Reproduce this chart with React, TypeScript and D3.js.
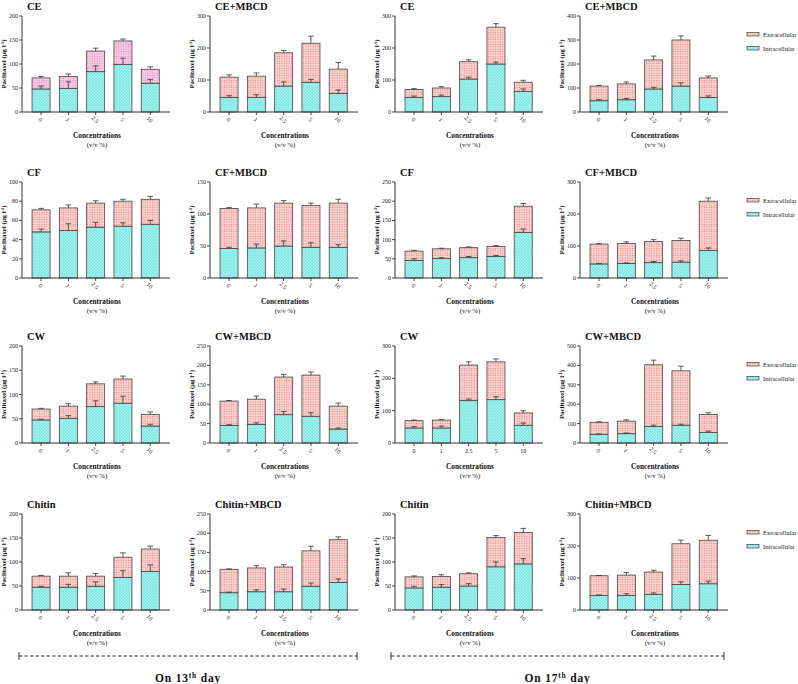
import React from 'react';
import * as d3 from 'd3';

const concentrations = ['0', '1', '2.5', '5', '10'];

// Day 13
const ceD13Intra = [48, 49, 84, 99, 60];
const ceD13IntraErr = [6, 14, 12, 13, 8];
const ceD13Extra = [23, 25, 43, 49, 29];
const ceD13ExtraErr = [3, 5, 6, 4, 5];

const ceMbD13Intra = [46, 46, 81, 93, 58];
const ceMbD13IntraErr = [5, 8, 13, 9, 11];
const ceMbD13Extra = [63, 66, 104, 122, 76];
const ceMbD13ExtraErr = [7, 10, 7, 22, 21];

const cfD13Intra = [48, 49.5, 53, 54, 56];
const cfD13IntraErr = [3, 7, 5, 3.5, 4];
const cfD13Extra = [23, 23.5, 25, 26, 26];
const cfD13ExtraErr = [1.5, 3, 2.5, 2, 3];

const cfMbD13Intra = [46, 47, 50, 48, 48];
const cfMbD13IntraErr = [2, 6, 8, 7, 4];
const cfMbD13Extra = [62.5, 62.5, 67, 65, 69];
const cfMbD13ExtraErr = [1.5, 6, 4, 4, 6];

const cwD13Intra = [47.5, 51, 75, 82, 35];
const cwD13IntraErr = [1.5, 5.5, 12, 14.5, 3.5];
const cwD13Extra = [22.5, 25, 47, 50, 24];
const cwD13ExtraErr = [1.5, 5, 4, 6, 5];

const cwMbD13Intra = [45.5, 48, 73, 69, 36];
const cwMbD13IntraErr = [1.5, 4, 8, 9, 2.7];
const cwMbD13Extra = [62.5, 65, 97, 106, 59];
const cwMbD13ExtraErr = [1.5, 8, 7, 8, 8];

const chD13Intra = [47.5, 47.5, 49.5, 68, 80];
const chD13IntraErr = [2, 6, 9, 14, 14];
const chD13Extra = [23, 23, 21, 42, 47];
const chD13ExtraErr = [1.5, 7, 5.5, 9, 6];

const chMbD13Intra = [45, 47.5, 47.5, 62, 71.5];
const chMbD13IntraErr = [1.5, 5, 7, 8, 9.5];
const chMbD13Extra = [61, 62, 64.5, 92, 111.5];
const chMbD13ExtraErr = [1, 6, 6, 12, 7.5];

// Day 17
const ceD17Intra = [46, 48, 103, 150, 64];
const ceD17IntraErr = [4, 5, 6, 6, 8];
const ceD17Extra = [24, 27, 54, 115, 29];
const ceD17ExtraErr = [3, 4, 6, 11, 6];

const ceMbD17Intra = [47, 51, 96, 108, 61];
const ceMbD17IntraErr = [4, 5, 7, 14, 6];
const ceMbD17Extra = [61, 66, 121, 192, 81];
const ceMbD17ExtraErr = [3, 8, 16, 17, 8];

const cfD17Intra = [46, 50.5, 53, 56, 118.5];
const cfD17IntraErr = [4, 2.5, 3, 2.5, 9];
const cfD17Extra = [24, 25.5, 26, 26, 68.5];
const cfD17ExtraErr = [2, 1.5, 2, 2.5, 7];

const cfMbD17Intra = [44, 45, 48, 49.5, 86.5];
const cfMbD17IntraErr = [1, 2, 3.5, 4, 7.5];
const cfMbD17Extra = [62, 63, 66, 68, 153.5];
const cfMbD17ExtraErr = [1, 5, 6, 7, 10];

const cwD17Intra = [46.5, 46.5, 131, 134, 55];
const cwD17IntraErr = [4, 6, 5, 9, 7];
const cwD17Extra = [22.5, 24.5, 110, 117, 38];
const cwD17ExtraErr = [2, 1, 10, 9, 7];

const cwMbD17Intra = [45, 48, 85, 92, 54];
const cwMbD17IntraErr = [1.7, 3.6, 7, 5, 7];
const cwMbD17Extra = [62, 64.5, 318, 280, 93];
const cwMbD17ExtraErr = [2, 7, 24, 24, 9];

const chD17Intra = [46, 47.5, 50, 90, 96];
const chD17IntraErr = [3.5, 5.5, 5, 10, 11];
const chD17Extra = [23, 22.5, 25.5, 61, 65.5];
const chD17ExtraErr = [2, 3.5, 2, 4, 8.5];

const chMbD17Intra = [45, 45, 49, 80, 82];
const chMbD17IntraErr = [2, 6, 4.5, 8, 8];
const chMbD17Extra = [62, 64, 69.5, 127, 136];
const chMbD17ExtraErr = [1, 8, 5.5, 11.5, 15];

const legendLabels = ['Extracellular', 'Intracellular'];
const dayLabels = ['13', '17'];

type Panel = {
  title: string;
  intra: number[];
  intraErr: number[];
  extra: number[];
  extraErr: number[];
  yMax: number;
  yStep: number;
  row: number;
  col: number;
  rotate: boolean;
  pinkAlt?: boolean;
};

const panels: Panel[] = [
  { title: 'CE', intra: ceD13Intra, intraErr: ceD13IntraErr, extra: ceD13Extra, extraErr: ceD13ExtraErr, yMax: 200, yStep: 50, row: 0, col: 0, rotate: true, pinkAlt: true },
  { title: 'CE+MBCD', intra: ceMbD13Intra, intraErr: ceMbD13IntraErr, extra: ceMbD13Extra, extraErr: ceMbD13ExtraErr, yMax: 300, yStep: 100, row: 0, col: 1, rotate: true },
  { title: 'CE', intra: ceD17Intra, intraErr: ceD17IntraErr, extra: ceD17Extra, extraErr: ceD17ExtraErr, yMax: 300, yStep: 100, row: 0, col: 2, rotate: true },
  { title: 'CE+MBCD', intra: ceMbD17Intra, intraErr: ceMbD17IntraErr, extra: ceMbD17Extra, extraErr: ceMbD17ExtraErr, yMax: 400, yStep: 100, row: 0, col: 3, rotate: true },
  { title: 'CF', intra: cfD13Intra, intraErr: cfD13IntraErr, extra: cfD13Extra, extraErr: cfD13ExtraErr, yMax: 100, yStep: 20, row: 1, col: 0, rotate: true },
  { title: 'CF+MBCD', intra: cfMbD13Intra, intraErr: cfMbD13IntraErr, extra: cfMbD13Extra, extraErr: cfMbD13ExtraErr, yMax: 150, yStep: 50, row: 1, col: 1, rotate: true },
  { title: 'CF', intra: cfD17Intra, intraErr: cfD17IntraErr, extra: cfD17Extra, extraErr: cfD17ExtraErr, yMax: 250, yStep: 50, row: 1, col: 2, rotate: true },
  { title: 'CF+MBCD', intra: cfMbD17Intra, intraErr: cfMbD17IntraErr, extra: cfMbD17Extra, extraErr: cfMbD17ExtraErr, yMax: 300, yStep: 100, row: 1, col: 3, rotate: true },
  { title: 'CW', intra: cwD13Intra, intraErr: cwD13IntraErr, extra: cwD13Extra, extraErr: cwD13ExtraErr, yMax: 200, yStep: 50, row: 2, col: 0, rotate: true },
  { title: 'CW+MBCD', intra: cwMbD13Intra, intraErr: cwMbD13IntraErr, extra: cwMbD13Extra, extraErr: cwMbD13ExtraErr, yMax: 250, yStep: 50, row: 2, col: 1, rotate: true },
  { title: 'CW', intra: cwD17Intra, intraErr: cwD17IntraErr, extra: cwD17Extra, extraErr: cwD17ExtraErr, yMax: 300, yStep: 100, row: 2, col: 2, rotate: false },
  { title: 'CW+MBCD', intra: cwMbD17Intra, intraErr: cwMbD17IntraErr, extra: cwMbD17Extra, extraErr: cwMbD17ExtraErr, yMax: 500, yStep: 100, row: 2, col: 3, rotate: true },
  { title: 'Chitin', intra: chD13Intra, intraErr: chD13IntraErr, extra: chD13Extra, extraErr: chD13ExtraErr, yMax: 200, yStep: 50, row: 3, col: 0, rotate: true },
  { title: 'Chitin+MBCD', intra: chMbD13Intra, intraErr: chMbD13IntraErr, extra: chMbD13Extra, extraErr: chMbD13ExtraErr, yMax: 250, yStep: 50, row: 3, col: 1, rotate: true },
  { title: 'Chitin', intra: chD17Intra, intraErr: chD17IntraErr, extra: chD17Extra, extraErr: chD17ExtraErr, yMax: 200, yStep: 50, row: 3, col: 2, rotate: true },
  { title: 'Chitin+MBCD', intra: chMbD17Intra, intraErr: chMbD17IntraErr, extra: chMbD17Extra, extraErr: chMbD17ExtraErr, yMax: 300, yStep: 100, row: 3, col: 3, rotate: true },
];

const W = 798;
const H = 684;
const rowTop = [16, 182, 346, 514];
const rowBase = [112, 278, 443, 610];
const colAxisX = [22, 210, 395, 580];
const FONT = '"Liberation Serif", "Times New Roman", serif';
const INK = '#333';

function PanelView({ p }: { p: Panel }) {
  const ax = colAxisX[p.col];
  const top = rowTop[p.row];
  const base = rowBase[p.row];
  const x = d3.scaleBand<string>().domain(concentrations).range([ax + 5.4, ax + 141.9]).paddingInner(0.34).paddingOuter(0.17);
  const y = d3.scaleLinear().domain([0, p.yMax]).range([base, top]);
  const rows = concentrations.map((c, i) => ({ c, intra: p.intra[i], extra: p.extra[i] }));
  const stack = d3.stack<any>().keys(['intra', 'extra'])(rows);
  const ticks = d3.range(0, p.yMax + p.yStep / 2, p.yStep);
  const bw = x.bandwidth();
  const pinkId = p.pinkAlt ? 'pinkAlt' : 'pinkPat';
  const cap = 2.8;
  const midY = (top + base) / 2;
  return (
    <g>
      <text x={ax + 5} y={top - 6.5} fontFamily={FONT} fontWeight="bold" fontSize={10.5} fill="#111">{p.title}</text>
      {stack.map((s, si) => (
        <g key={si}>
          {s.map((d, i) => (
            <rect key={i} x={x(concentrations[i])} y={y(d[1])} width={bw} height={y(d[0]) - y(d[1])}
              fill={si === 0 ? 'url(#cyanPat)' : `url(#${pinkId})`} stroke="#444" strokeWidth={0.8} />
          ))}
        </g>
      ))}
      {rows.map((r, i) => {
        const cx = (x(r.c) as number) + bw / 2;
        const t1 = r.intra, e1 = r.intra + p.intraErr[i];
        const t2 = r.intra + r.extra, e2 = t2 + p.extraErr[i];
        return (
          <g key={i} stroke={INK} strokeWidth={0.8}>
            <line x1={cx} x2={cx} y1={y(t1)} y2={y(e1)} />
            <line x1={cx - cap} x2={cx + cap} y1={y(e1)} y2={y(e1)} />
            <line x1={cx} x2={cx} y1={y(t2)} y2={y(e2)} />
            <line x1={cx - cap} x2={cx + cap} y1={y(e2)} y2={y(e2)} />
          </g>
        );
      })}
      <line x1={ax} x2={ax} y1={base} y2={top} stroke={INK} strokeWidth={1} />
      {ticks.map((t) => (
        <g key={t}>
          <line x1={ax - 3} x2={ax} y1={y(t)} y2={y(t)} stroke={INK} strokeWidth={0.9} />
          <text x={ax - 4} y={y(t) + 2} textAnchor="end" fontFamily={FONT} fontSize={6} fill="#222">{t}</text>
        </g>
      ))}
      <text transform={`translate(${ax - 16},${midY}) rotate(-90)`} textAnchor="middle" fontFamily={FONT} fontWeight="bold" fontSize={6.8} fill="#111">
        Paclitaxel (μg l<tspan dy={-2.5} fontSize={4.5}>-1</tspan><tspan dy={2.5}>)</tspan>
      </text>
      <line x1={ax} x2={ax + 148} y1={base} y2={base} stroke={INK} strokeWidth={1} />
      {concentrations.map((c) => {
        const cx = (x(c) as number) + bw / 2;
        return (
          <g key={c}>
            <line x1={cx} x2={cx} y1={base} y2={base + 3} stroke={INK} strokeWidth={0.9} />
            {p.rotate ? (
              <text transform={`translate(${cx - 1},${base + 8}) rotate(45)`} textAnchor="middle" dominantBaseline="middle" fontFamily={FONT} fontSize={6} fill="#222">{c}</text>
            ) : (
              <text x={cx} y={base + 10} textAnchor="middle" fontFamily={FONT} fontSize={6} fill="#222">{c}</text>
            )}
          </g>
        );
      })}
      <text x={ax + 75} y={base + 25.5} textAnchor="middle" fontFamily={FONT} fontWeight="bold" fontSize={7.3} fill="#111">Concentrations</text>
      <text x={ax + 75} y={base + 34.5} textAnchor="middle" fontFamily={FONT} fontSize={6.8} fill="#111">(v/v %)</text>
      {p.col === 3 && (
        <g>
          {legendLabels.map((l, li) => (
            <g key={l}>
              <rect x={747} y={top + 16.5 + li * 14} width={12} height={3.5} fill={li === 0 ? 'url(#pinkPat)' : 'url(#cyanPat)'} stroke="#444" strokeWidth={0.7} />
              <text x={763} y={top + 20.5 + li * 14} fontFamily={FONT} fontSize={6.5} fill="#222">{l}</text>
            </g>
          ))}
        </g>
      )}
    </g>
  );
}

export default function App() {
  const spans = [
    { x1: 19, x2: 357 },
    { x1: 391, x2: 724 },
  ];
  return (
    <svg width={W} height={H} style={{ position: 'absolute', left: 0, top: 0, background: '#fff' }}>
      <defs>
        <pattern id="cyanPat" width={3} height={3} patternUnits="userSpaceOnUse">
          <rect width={3} height={3} fill="#9ef3ee" />
          <path d="M0,3 L3,0 M-1,1 L1,-1 M2,4 L4,2" stroke="#72d8d4" strokeWidth={0.45} />
          <path d="M0,0 L3,3 M-1,2 L1,4 M2,-1 L4,1" stroke="#72d8d4" strokeWidth={0.45} />
        </pattern>
        <pattern id="pinkPat" width={2.4} height={2.4} patternUnits="userSpaceOnUse">
          <rect width={2.4} height={2.4} fill="#fbd0cd" />
          <circle cx={1.2} cy={1.2} r={0.6} fill="#e8857f" />
        </pattern>
        <pattern id="pinkAlt" width={2.4} height={2.4} patternUnits="userSpaceOnUse">
          <rect width={2.4} height={2.4} fill="#f8c8e4" />
          <circle cx={1.2} cy={1.2} r={0.6} fill="#df8cbf" />
        </pattern>
      </defs>
      {panels.map((p, i) => <PanelView key={i} p={p} />)}
      {spans.map((s, i) => (
        <g key={i} stroke={INK} strokeWidth={1}>
          <line x1={s.x1} x2={s.x2} y1={656} y2={656} strokeDasharray="3.5,2" />
          <line x1={s.x1} x2={s.x1} y1={652} y2={660} />
          <line x1={s.x2} x2={s.x2} y1={652} y2={660} />
        </g>
      ))}
      {spans.map((s, i) => (
        <text key={i} x={(s.x1 + s.x2) / 2} y={682} textAnchor="middle" fontFamily={FONT} fontWeight="bold" fontSize={11.5} letterSpacing={0.8} fill="#111">
          On {dayLabels[i]}<tspan dy={-4.5} fontSize={7.5}>th</tspan><tspan dy={4.5}> day</tspan>
        </text>
      ))}
    </svg>
  );
}
